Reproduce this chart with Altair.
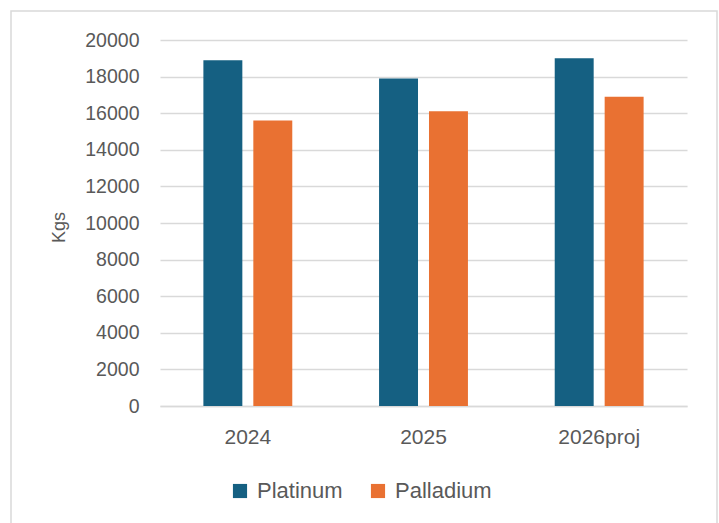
import altair as alt
import pandas as pd

years = ["2024", "2025", "2026proj"]
platinum = [18900, 17900, 19000]
palladium = [15600, 16100, 16900]
series = ["Platinum", "Palladium"]
colors = ["#156082", "#E97132"]
y_ticks = [0, 2000, 4000, 6000, 8000, 10000, 12000, 14000, 16000, 18000, 20000]

rows = []
for i, yr in enumerate(years):
    rows.append({"year": yr, "metal": "Platinum", "kgs": platinum[i]})
    rows.append({"year": yr, "metal": "Palladium", "kgs": palladium[i]})
df = pd.DataFrame(rows)

FONT = "Liberation Sans"
GREY = "#595959"

bars = alt.Chart(df).mark_bar().encode(
    x=alt.X("year:N", sort=years, title=None,
            scale=alt.Scale(paddingInner=0.494, paddingOuter=0.247),
            axis=alt.Axis(labelAngle=0, labelFontSize=21, labelColor=GREY, labelFont=FONT,
                          labelPadding=20, ticks=False, domain=True, domainColor="#d9d9d9",
                          domainWidth=1.5, grid=False)),
    xOffset=alt.XOffset("metal:N", sort=series,
                        scale=alt.Scale(paddingInner=0.22, paddingOuter=0)),
    y=alt.Y("kgs:Q", title="Kgs",
            scale=alt.Scale(domain=[0, 20000], nice=False),
            axis=alt.Axis(values=y_ticks, format="d", labelFontSize=19.5, labelColor=GREY,
                          labelFont=FONT, labelPadding=21, ticks=False, domain=False, grid=True,
                          gridColor="#d9d9d9", gridWidth=1.5,
                          titleFontSize=18, titleFont=FONT, titleColor=GREY,
                          titleFontWeight="normal", titleX=-101, titleY=187,
                          titleAngle=270, titleAlign="center", titleBaseline="middle")),
    color=alt.Color("metal:N", sort=series,
                    scale=alt.Scale(domain=series, range=colors),
                    legend=alt.Legend(title=None, orient="none", direction="horizontal",
                                      legendX=69, legendY=440, symbolType="square",
                                      symbolSize=200, symbolStrokeWidth=0,
                                      labelFontSize=22, labelFont=FONT, labelColor=GREY,
                                      columnPadding=24, labelOffset=6)),
)

border = alt.Chart(pd.DataFrame({"a": [0]})).mark_rect(
    fill=None, stroke="#d9d9d9", strokeWidth=1.5, clip=False
).encode(
    x=alt.value(-149), x2=alt.value(557), y=alt.value(-29), y2=alt.value(520)
)

chart = alt.layer(border, bars).properties(
    width=527, height=366,
    padding={"left": 160, "top": 40, "right": 32, "bottom": 117},
    autosize=alt.AutoSizeParams(type="none"),
    background="white",
).configure_view(stroke=None)

chart.save("out.html", embed_options={"renderer": "svg", "actions": False})
